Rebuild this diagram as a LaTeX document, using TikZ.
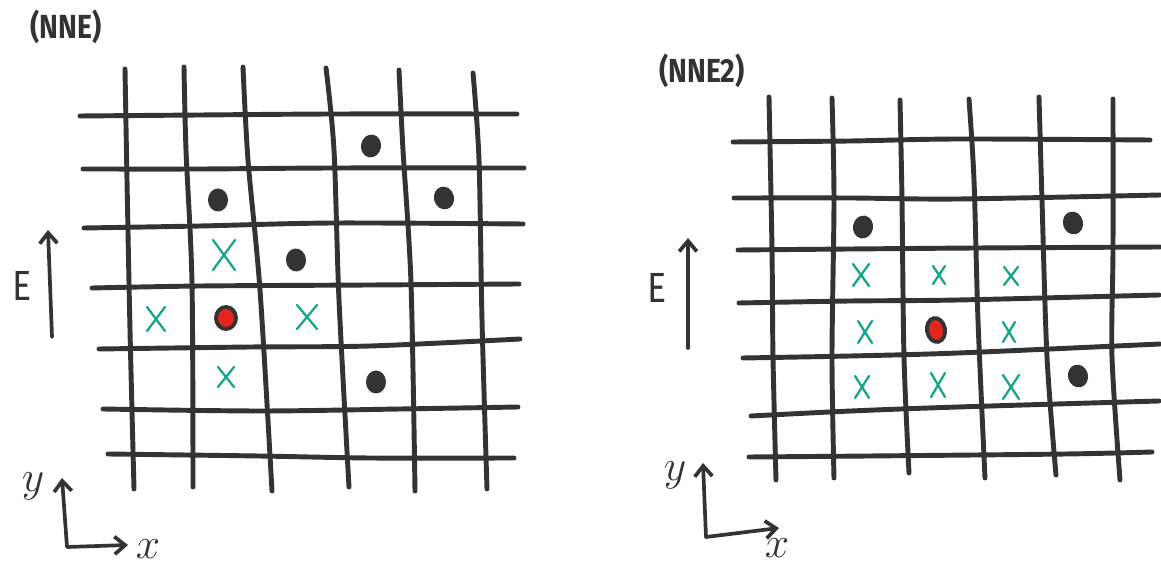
\documentclass[tikz,border=0pt]{standalone}
\usepackage{fontspec}
\usetikzlibrary{arrows.meta}
\newfontfamily\handfont[FakeStretch=0.85]{Fira Sans}
\definecolor{ink}{HTML}{333333}
\definecolor{mintx}{HTML}{17A589}
\definecolor{dotred}{HTML}{E3261E}

\tikzset{
  gridline/.style={ink, line width=2.8pt, line cap=round, line join=round},
  axisline/.style={ink, line width=2.1pt, line cap=round, line join=round},
  oneway/.style={-{Straight Barb[length=6pt,width=10pt]}},
  twoway/.style={{Straight Barb[length=6pt,width=10pt]}-{Straight Barb[length=6pt,width=10pt]}},
  crossline/.style={mintx, line width=1.3pt, line cap=round},
  title/.style={font=\handfont\bfseries\fontsize{19}{19}\selectfont, text=ink, inner sep=0pt},
  elabel/.style={font=\handfont\fontsize{24}{24}\selectfont, text=ink, inner sep=0pt},
  axlabel/.style={font=\fontsize{24}{24}\selectfont, text=ink, inner sep=0pt},
}

\begin{document}
\begin{tikzpicture}[x=0.02cm,y=-0.02cm]
\useasboundingbox (0,0) rectangle (1161,567);

% left panel (NNE)
\node[title] (nne) at (66,27) {(NNE)};
\foreach \xa/\ya/\xb/\yb/\xc/\yc/\xd/\yd in {%
  125/69/127/180/130/330/134/489,
  184/67/186/150/192/283/193/487,
  243/67/248/160/260/290/272/491,
  326/68/334/150/339/300/349/487,
  399/70/403/150/411/283/415/491,
  473/73/479/160/482/320/487/489,
  80/116/200/115/333/114/517/114,
  83/169/200/169/333/168/524/168,
  84/228/200/226/333/223/523/224,
  92/288/200/286/370/285/519/284,
  99/349/250/347/370/346/520/339,
  103/409/260/411/400/409/518/407,
  108/454/259/456/370/458/514/458}{
  \draw[gridline] plot[smooth] coordinates {(\xa,\ya) (\xb,\yb) (\xc,\yc) (\xd,\yd)};
}

% right panel (NNE2)
\node[title] (nnetwo) at (702,71) {(NNE2)};
\foreach \xa/\ya/\xb/\yb/\xc/\yc/\xd/\yd in {%
  769/97/772/250/773/357/776/480,
  832/98/834/200/832/357/834/478,
  900/100/902/200/904/357/909/473,
  969/99/974/180/978/320/985/478,
  1039/97/1042/200/1047/357/1056/475,
  1113/99/1113/250/1112/357/1120/480,
  733/142/850/141/958/139/1150/140,
  734/198/850/198/958/199/1160/195,
  738/250/850/249/976/248/1160/247,
  739/303/850/301/958/300/1159/295,
  743/358/850/356/958/353/1160/344,
  751/416/851/411/958/407/1159/401,
  749/457/869/456/1066/454/1152/452}{
  \draw[gridline] plot[smooth] coordinates {(\xa,\ya) (\xb,\yb) (\xc,\yc) (\xd,\yd)};
}

% black dots
\foreach \x/\y/\r in {371/146/-10, 218/200/0, 444/198/15, 296/260/5, 376/382/0,
  863/227/-10, 1073/223/15, 1078/376/15}
  \fill[ink, rotate around={\r:(\x,\y)}] (\x,\y) ellipse (10 and 11.5);

% red dots
\filldraw[fill=dotred, draw=ink, line width=2.2pt] (226,318) ellipse (10 and 11);
\filldraw[fill=dotred, draw=ink, line width=2.2pt, rotate around={10:(936,330)}] (936,330) ellipse (9 and 12);

% green crosses
\foreach \x/\y/\w/\h in {224/255/11/15, 156/319/9/12, 307/317/10/12, 226/377/8/10,
  861/275/8/11, 939/275/6/9, 1011/276/7/9,
  865/332/7/11, 1009/332/6/10,
  862/387/7/11, 938/385/7/12, 1011/387/8/12}{
  \draw[crossline] (\x-\w,\y-\h) -- (\x+\w,\y+\h);
  \draw[crossline] (\x+\w,\y-\h) -- (\x-\w,\y+\h);
}

% E arrows
\node[elabel] (eleft) at (22,286) {E};
\coordinate (eleftlo) at (52,337);
\coordinate (elefthi) at (48,230);
\draw[axisline, oneway] (eleftlo) -- (elefthi);
\node[elabel] (eright) at (657,288) {E};
\coordinate (erightlo) at (688,348);
\coordinate (erighthi) at (688,238);
\draw[axisline, oneway] (erightlo) -- (erighthi);

% x-y axes
\coordinate (oleft) at (67,547);
\coordinate (yleft) at (62,478);
\coordinate (xleft) at (128,545);
\draw[axisline, twoway] (yleft) -- (oleft) -- (xleft);
\node[axlabel] (ylabl) at (33,486) {$y$};
\node[axlabel] (xlabl) at (148,549) {$x$};
\coordinate (oright) at (706,537);
\coordinate (yright) at (703,463);
\coordinate (xright) at (779,528);
\draw[axisline, twoway] (yright) -- (oright) -- (xright);
\node[axlabel] (ylabr) at (675,475) {$y$};
\node[axlabel] (xlabr) at (777,548) {$x$};
\end{tikzpicture}
\end{document}
